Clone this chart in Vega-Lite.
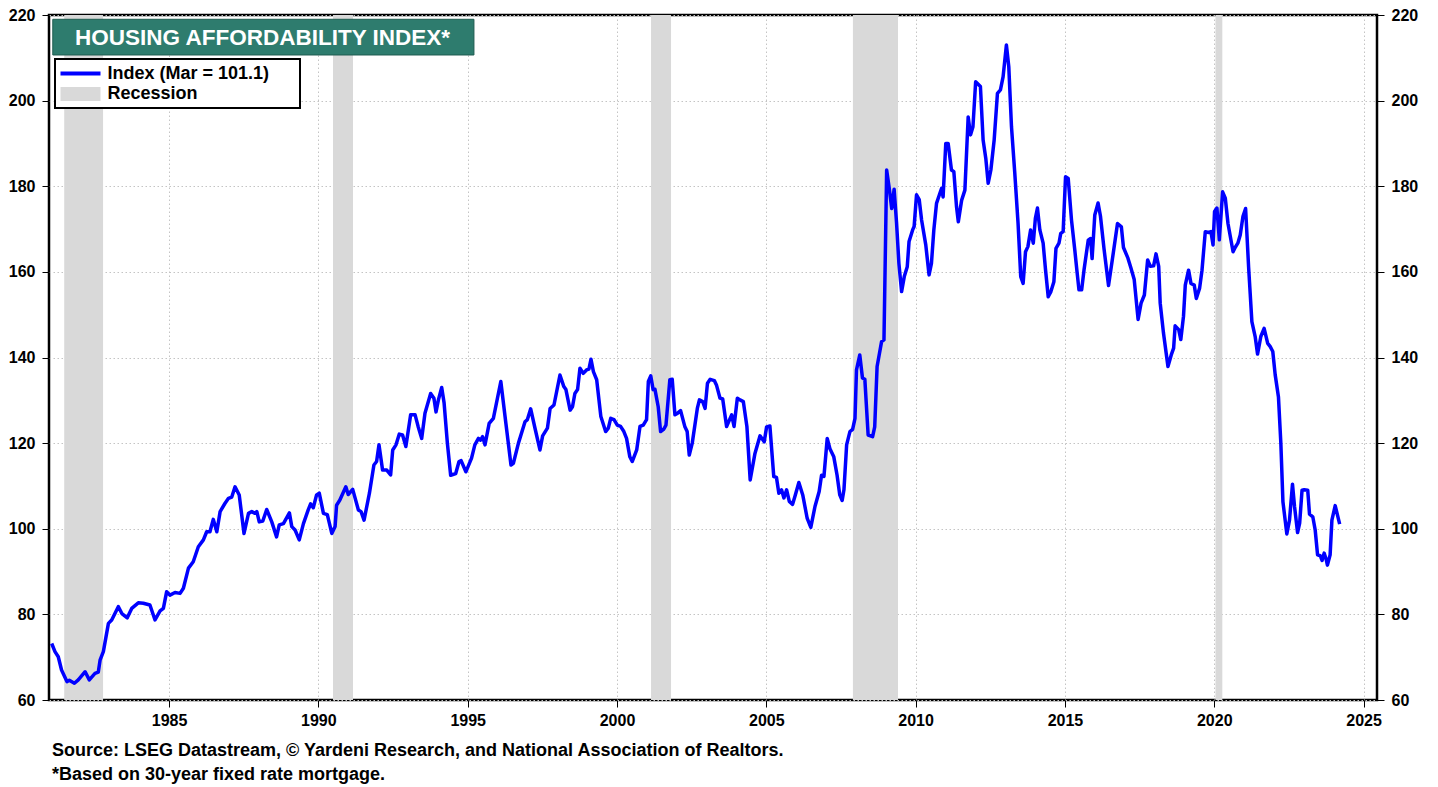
{
  "$schema": "https://vega.github.io/schema/vega-lite/v6.json",
  "width": 1328,
  "height": 685,
  "autosize": {"type": "none"},
  "padding": {"left": 49, "top": 15, "right": 61, "bottom": 87},
  "background": "white",
  "datasets": {
    "index": [
      {"t": 1981.07, "v": 73.2}, {"t": 1981.18, "v": 71.3}, {"t": 1981.29, "v": 70.1}, {"t": 1981.40, "v": 67.0},
      {"t": 1981.58, "v": 64.3}, {"t": 1981.66, "v": 64.6}, {"t": 1981.83, "v": 63.9}, {"t": 1981.96, "v": 64.7},
      {"t": 1982.19, "v": 66.6}, {"t": 1982.33, "v": 64.7}, {"t": 1982.52, "v": 66.2}, {"t": 1982.63, "v": 66.5},
      {"t": 1982.69, "v": 69.3}, {"t": 1982.80, "v": 71.3}, {"t": 1982.97, "v": 77.9}, {"t": 1983.08, "v": 78.7},
      {"t": 1983.30, "v": 81.8}, {"t": 1983.42, "v": 80.2}, {"t": 1983.60, "v": 79.2}, {"t": 1983.75, "v": 81.4},
      {"t": 1983.97, "v": 82.7}, {"t": 1984.14, "v": 82.6}, {"t": 1984.36, "v": 82.2}, {"t": 1984.53, "v": 78.7},
      {"t": 1984.70, "v": 80.8}, {"t": 1984.81, "v": 81.4}, {"t": 1984.92, "v": 85.3}, {"t": 1985.03, "v": 84.5},
      {"t": 1985.20, "v": 85.1}, {"t": 1985.37, "v": 84.9}, {"t": 1985.48, "v": 86.1}, {"t": 1985.65, "v": 90.8},
      {"t": 1985.81, "v": 92.3}, {"t": 1985.98, "v": 95.8}, {"t": 1986.15, "v": 97.4}, {"t": 1986.26, "v": 99.3},
      {"t": 1986.37, "v": 99.3}, {"t": 1986.48, "v": 102.2}, {"t": 1986.60, "v": 99.3}, {"t": 1986.71, "v": 104.0},
      {"t": 1986.87, "v": 105.9}, {"t": 1986.99, "v": 107.1}, {"t": 1987.10, "v": 107.4}, {"t": 1987.21, "v": 109.8},
      {"t": 1987.35, "v": 107.9}, {"t": 1987.51, "v": 98.9}, {"t": 1987.66, "v": 103.6}, {"t": 1987.77, "v": 104.0},
      {"t": 1987.88, "v": 103.6}, {"t": 1987.94, "v": 104.0}, {"t": 1988.02, "v": 101.6}, {"t": 1988.14, "v": 101.8},
      {"t": 1988.27, "v": 104.5}, {"t": 1988.44, "v": 101.6}, {"t": 1988.60, "v": 98.1}, {"t": 1988.69, "v": 100.9},
      {"t": 1988.83, "v": 101.2}, {"t": 1989.03, "v": 103.7}, {"t": 1989.11, "v": 100.5}, {"t": 1989.22, "v": 99.7},
      {"t": 1989.36, "v": 97.4}, {"t": 1989.50, "v": 101.2}, {"t": 1989.66, "v": 104.4}, {"t": 1989.74, "v": 105.8},
      {"t": 1989.83, "v": 104.9}, {"t": 1989.94, "v": 107.9}, {"t": 1990.03, "v": 108.3}, {"t": 1990.17, "v": 103.6},
      {"t": 1990.30, "v": 103.3}, {"t": 1990.45, "v": 98.9}, {"t": 1990.56, "v": 100.5}, {"t": 1990.61, "v": 105.5},
      {"t": 1990.72, "v": 106.7}, {"t": 1990.92, "v": 109.8}, {"t": 1991.00, "v": 108.0}, {"t": 1991.15, "v": 109.2},
      {"t": 1991.34, "v": 104.4}, {"t": 1991.43, "v": 104.0}, {"t": 1991.53, "v": 102.0}, {"t": 1991.71, "v": 108.3},
      {"t": 1991.86, "v": 114.9}, {"t": 1991.95, "v": 115.7}, {"t": 1992.03, "v": 119.6}, {"t": 1992.15, "v": 113.7},
      {"t": 1992.29, "v": 113.7}, {"t": 1992.42, "v": 112.6}, {"t": 1992.49, "v": 118.4}, {"t": 1992.60, "v": 119.6},
      {"t": 1992.71, "v": 122.1}, {"t": 1992.82, "v": 121.9}, {"t": 1992.93, "v": 119.2}, {"t": 1993.09, "v": 126.6},
      {"t": 1993.24, "v": 126.6}, {"t": 1993.34, "v": 123.9}, {"t": 1993.46, "v": 121.1}, {"t": 1993.57, "v": 127.0},
      {"t": 1993.76, "v": 131.6}, {"t": 1993.87, "v": 130.5}, {"t": 1993.94, "v": 127.3}, {"t": 1994.02, "v": 130.1},
      {"t": 1994.13, "v": 133.0}, {"t": 1994.21, "v": 129.4}, {"t": 1994.32, "v": 120.0}, {"t": 1994.43, "v": 112.5},
      {"t": 1994.60, "v": 112.9}, {"t": 1994.71, "v": 115.7}, {"t": 1994.78, "v": 115.9}, {"t": 1994.94, "v": 113.3},
      {"t": 1995.13, "v": 116.5}, {"t": 1995.24, "v": 119.6}, {"t": 1995.36, "v": 121.1}, {"t": 1995.43, "v": 120.7},
      {"t": 1995.50, "v": 121.5}, {"t": 1995.58, "v": 119.6}, {"t": 1995.72, "v": 124.6}, {"t": 1995.86, "v": 125.8},
      {"t": 1996.11, "v": 134.4}, {"t": 1996.28, "v": 124.6}, {"t": 1996.45, "v": 114.9}, {"t": 1996.53, "v": 115.3},
      {"t": 1996.70, "v": 120.0}, {"t": 1996.92, "v": 125.0}, {"t": 1997.00, "v": 125.5}, {"t": 1997.11, "v": 128.0},
      {"t": 1997.26, "v": 123.3}, {"t": 1997.42, "v": 118.4}, {"t": 1997.51, "v": 121.7}, {"t": 1997.67, "v": 123.5},
      {"t": 1997.76, "v": 128.1}, {"t": 1997.89, "v": 128.9}, {"t": 1998.09, "v": 135.9}, {"t": 1998.22, "v": 133.2},
      {"t": 1998.29, "v": 132.5}, {"t": 1998.43, "v": 127.7}, {"t": 1998.51, "v": 128.5}, {"t": 1998.59, "v": 131.6},
      {"t": 1998.68, "v": 132.5}, {"t": 1998.76, "v": 137.5}, {"t": 1998.87, "v": 136.3}, {"t": 1998.98, "v": 137.1},
      {"t": 1999.06, "v": 137.3}, {"t": 1999.13, "v": 139.6}, {"t": 1999.21, "v": 136.7}, {"t": 1999.32, "v": 134.8},
      {"t": 1999.46, "v": 126.2}, {"t": 1999.62, "v": 122.7}, {"t": 1999.71, "v": 123.5}, {"t": 1999.79, "v": 125.8},
      {"t": 1999.90, "v": 125.5}, {"t": 2000.01, "v": 124.2}, {"t": 2000.12, "v": 123.9}, {"t": 2000.23, "v": 122.7},
      {"t": 2000.32, "v": 121.1}, {"t": 2000.43, "v": 116.8}, {"t": 2000.51, "v": 115.7}, {"t": 2000.66, "v": 118.4},
      {"t": 2000.77, "v": 123.9}, {"t": 2000.88, "v": 124.2}, {"t": 2000.99, "v": 125.5}, {"t": 2001.05, "v": 134.4},
      {"t": 2001.13, "v": 135.7}, {"t": 2001.21, "v": 132.5}, {"t": 2001.27, "v": 132.6}, {"t": 2001.38, "v": 128.5},
      {"t": 2001.46, "v": 122.7}, {"t": 2001.57, "v": 123.3}, {"t": 2001.64, "v": 124.2}, {"t": 2001.77, "v": 134.8},
      {"t": 2001.85, "v": 134.9}, {"t": 2001.94, "v": 126.6}, {"t": 2002.03, "v": 127.0}, {"t": 2002.13, "v": 127.6},
      {"t": 2002.27, "v": 123.9}, {"t": 2002.35, "v": 122.7}, {"t": 2002.42, "v": 117.2}, {"t": 2002.52, "v": 120.0},
      {"t": 2002.69, "v": 128.1}, {"t": 2002.76, "v": 130.1}, {"t": 2002.87, "v": 129.7}, {"t": 2002.95, "v": 128.1},
      {"t": 2003.03, "v": 134.0}, {"t": 2003.12, "v": 134.9}, {"t": 2003.26, "v": 134.6}, {"t": 2003.33, "v": 133.6},
      {"t": 2003.45, "v": 130.5}, {"t": 2003.54, "v": 130.3}, {"t": 2003.67, "v": 123.9}, {"t": 2003.84, "v": 126.6},
      {"t": 2003.92, "v": 123.9}, {"t": 2004.03, "v": 130.5}, {"t": 2004.12, "v": 130.1}, {"t": 2004.23, "v": 129.7},
      {"t": 2004.35, "v": 123.9}, {"t": 2004.46, "v": 111.4}, {"t": 2004.62, "v": 117.6}, {"t": 2004.79, "v": 121.7},
      {"t": 2004.93, "v": 120.3}, {"t": 2005.01, "v": 123.8}, {"t": 2005.12, "v": 124.0}, {"t": 2005.25, "v": 112.2},
      {"t": 2005.34, "v": 112.0}, {"t": 2005.42, "v": 108.3}, {"t": 2005.51, "v": 109.1}, {"t": 2005.59, "v": 107.2},
      {"t": 2005.68, "v": 109.1}, {"t": 2005.77, "v": 106.4}, {"t": 2005.88, "v": 105.7}, {"t": 2005.96, "v": 107.6},
      {"t": 2006.09, "v": 110.8}, {"t": 2006.22, "v": 107.9}, {"t": 2006.37, "v": 102.4}, {"t": 2006.49, "v": 100.3},
      {"t": 2006.63, "v": 105.2}, {"t": 2006.77, "v": 108.7}, {"t": 2006.85, "v": 112.5}, {"t": 2006.93, "v": 112.2},
      {"t": 2007.04, "v": 121.1}, {"t": 2007.13, "v": 118.7}, {"t": 2007.26, "v": 116.8}, {"t": 2007.37, "v": 112.5},
      {"t": 2007.46, "v": 107.9}, {"t": 2007.54, "v": 106.6}, {"t": 2007.60, "v": 109.1}, {"t": 2007.69, "v": 119.6},
      {"t": 2007.80, "v": 122.7}, {"t": 2007.89, "v": 123.2}, {"t": 2007.97, "v": 125.8}, {"t": 2008.02, "v": 137.1},
      {"t": 2008.13, "v": 140.6}, {"t": 2008.22, "v": 135.2}, {"t": 2008.30, "v": 134.9}, {"t": 2008.41, "v": 121.9},
      {"t": 2008.56, "v": 121.5}, {"t": 2008.63, "v": 123.8}, {"t": 2008.71, "v": 137.9}, {"t": 2008.86, "v": 143.7},
      {"t": 2008.94, "v": 144.1}, {"t": 2009.03, "v": 183.8}, {"t": 2009.11, "v": 179.9}, {"t": 2009.20, "v": 174.8},
      {"t": 2009.28, "v": 179.3}, {"t": 2009.36, "v": 171.6}, {"t": 2009.44, "v": 162.0}, {"t": 2009.53, "v": 155.4},
      {"t": 2009.62, "v": 158.9}, {"t": 2009.72, "v": 161.2}, {"t": 2009.78, "v": 167.1}, {"t": 2009.90, "v": 169.8},
      {"t": 2009.95, "v": 170.6}, {"t": 2010.03, "v": 178.0}, {"t": 2010.12, "v": 176.9}, {"t": 2010.20, "v": 172.1},
      {"t": 2010.34, "v": 166.3}, {"t": 2010.45, "v": 159.3}, {"t": 2010.53, "v": 162.0}, {"t": 2010.61, "v": 169.8},
      {"t": 2010.70, "v": 176.0}, {"t": 2010.81, "v": 178.3}, {"t": 2010.87, "v": 179.5}, {"t": 2010.92, "v": 177.5},
      {"t": 2011.01, "v": 190.0}, {"t": 2011.09, "v": 190.0}, {"t": 2011.20, "v": 183.8}, {"t": 2011.28, "v": 183.4},
      {"t": 2011.37, "v": 175.2}, {"t": 2011.43, "v": 171.7}, {"t": 2011.54, "v": 176.7}, {"t": 2011.65, "v": 179.1},
      {"t": 2011.76, "v": 196.2}, {"t": 2011.84, "v": 192.0}, {"t": 2011.92, "v": 193.9}, {"t": 2012.01, "v": 204.4},
      {"t": 2012.17, "v": 203.3}, {"t": 2012.26, "v": 190.8}, {"t": 2012.35, "v": 186.5}, {"t": 2012.43, "v": 180.7},
      {"t": 2012.52, "v": 183.8}, {"t": 2012.63, "v": 190.8}, {"t": 2012.74, "v": 201.7}, {"t": 2012.84, "v": 202.5},
      {"t": 2012.93, "v": 205.6}, {"t": 2013.04, "v": 213.0}, {"t": 2013.12, "v": 207.9}, {"t": 2013.21, "v": 193.9},
      {"t": 2013.32, "v": 183.1}, {"t": 2013.43, "v": 171.4}, {"t": 2013.52, "v": 158.9}, {"t": 2013.60, "v": 157.3},
      {"t": 2013.68, "v": 164.7}, {"t": 2013.76, "v": 165.9}, {"t": 2013.85, "v": 169.8}, {"t": 2013.94, "v": 166.7},
      {"t": 2014.01, "v": 172.5}, {"t": 2014.08, "v": 174.9}, {"t": 2014.16, "v": 169.8}, {"t": 2014.27, "v": 166.7},
      {"t": 2014.35, "v": 160.5}, {"t": 2014.44, "v": 154.2}, {"t": 2014.53, "v": 155.4}, {"t": 2014.63, "v": 157.7},
      {"t": 2014.70, "v": 165.5}, {"t": 2014.80, "v": 166.7}, {"t": 2014.86, "v": 169.0}, {"t": 2014.94, "v": 169.4},
      {"t": 2015.02, "v": 182.2}, {"t": 2015.11, "v": 181.8}, {"t": 2015.22, "v": 172.1}, {"t": 2015.33, "v": 165.1},
      {"t": 2015.41, "v": 159.7}, {"t": 2015.47, "v": 155.8}, {"t": 2015.56, "v": 155.8}, {"t": 2015.64, "v": 160.5},
      {"t": 2015.78, "v": 167.4}, {"t": 2015.86, "v": 167.8}, {"t": 2015.91, "v": 163.1}, {"t": 2016.00, "v": 173.3},
      {"t": 2016.11, "v": 176.1}, {"t": 2016.19, "v": 173.0}, {"t": 2016.31, "v": 165.3}, {"t": 2016.46, "v": 156.8},
      {"t": 2016.59, "v": 163.0}, {"t": 2016.76, "v": 171.3}, {"t": 2016.89, "v": 170.5}, {"t": 2016.96, "v": 165.7},
      {"t": 2017.11, "v": 163.2}, {"t": 2017.21, "v": 160.9}, {"t": 2017.32, "v": 158.2}, {"t": 2017.45, "v": 148.9},
      {"t": 2017.55, "v": 152.7}, {"t": 2017.66, "v": 154.6}, {"t": 2017.77, "v": 162.8}, {"t": 2017.86, "v": 161.3},
      {"t": 2017.97, "v": 161.4}, {"t": 2018.05, "v": 164.2}, {"t": 2018.14, "v": 161.3}, {"t": 2018.19, "v": 152.7},
      {"t": 2018.30, "v": 145.7}, {"t": 2018.45, "v": 137.9}, {"t": 2018.56, "v": 140.6}, {"t": 2018.64, "v": 142.2},
      {"t": 2018.69, "v": 147.4}, {"t": 2018.81, "v": 146.5}, {"t": 2018.88, "v": 144.2}, {"t": 2018.97, "v": 149.6},
      {"t": 2019.03, "v": 156.9}, {"t": 2019.14, "v": 160.4}, {"t": 2019.22, "v": 157.3}, {"t": 2019.33, "v": 156.9},
      {"t": 2019.40, "v": 153.8}, {"t": 2019.51, "v": 156.2}, {"t": 2019.59, "v": 160.4}, {"t": 2019.70, "v": 169.4},
      {"t": 2019.81, "v": 169.2}, {"t": 2019.89, "v": 169.4}, {"t": 2019.96, "v": 166.3}, {"t": 2020.01, "v": 174.1},
      {"t": 2020.09, "v": 174.9}, {"t": 2020.17, "v": 167.5}, {"t": 2020.28, "v": 178.7}, {"t": 2020.37, "v": 177.2},
      {"t": 2020.46, "v": 171.3}, {"t": 2020.63, "v": 164.7}, {"t": 2020.70, "v": 165.7}, {"t": 2020.79, "v": 166.7},
      {"t": 2020.87, "v": 168.6}, {"t": 2020.96, "v": 172.9}, {"t": 2021.05, "v": 174.8}, {"t": 2021.15, "v": 161.2},
      {"t": 2021.26, "v": 148.4}, {"t": 2021.37, "v": 144.9}, {"t": 2021.45, "v": 140.8}, {"t": 2021.56, "v": 144.9},
      {"t": 2021.67, "v": 146.8}, {"t": 2021.79, "v": 143.3}, {"t": 2021.87, "v": 142.6}, {"t": 2021.96, "v": 141.4},
      {"t": 2022.04, "v": 136.0}, {"t": 2022.15, "v": 130.8}, {"t": 2022.23, "v": 120.0}, {"t": 2022.30, "v": 106.3},
      {"t": 2022.43, "v": 98.8}, {"t": 2022.52, "v": 102.0}, {"t": 2022.62, "v": 110.4}, {"t": 2022.69, "v": 105.1},
      {"t": 2022.79, "v": 99.1}, {"t": 2022.86, "v": 101.3}, {"t": 2022.94, "v": 109.0}, {"t": 2023.01, "v": 109.1},
      {"t": 2023.13, "v": 109.0}, {"t": 2023.19, "v": 103.4}, {"t": 2023.30, "v": 102.8}, {"t": 2023.38, "v": 99.7},
      {"t": 2023.46, "v": 93.9}, {"t": 2023.55, "v": 93.7}, {"t": 2023.61, "v": 92.6}, {"t": 2023.68, "v": 94.3},
      {"t": 2023.75, "v": 92.8}, {"t": 2023.79, "v": 91.5}, {"t": 2023.88, "v": 93.9}, {"t": 2023.94, "v": 102.0},
      {"t": 2024.05, "v": 105.4}, {"t": 2024.20, "v": 101.1}
    ],
    "recessions": [
      {"start": 1981.49, "end": 1982.79, "type": "Recession"},
      {"start": 1990.49, "end": 1991.16, "type": "Recession"},
      {"start": 2001.14, "end": 2001.81, "type": "Recession"},
      {"start": 2007.90, "end": 2009.41, "type": "Recession"},
      {"start": 2020.04, "end": 2020.27, "type": "Recession"}
    ],
    "heading": [
      {"label": "HOUSING AFFORDABILITY INDEX*"}
    ]
  },
  "title": {
    "text": [
      "Source: LSEG Datastream, © Yardeni Research, and National Association of Realtors.",
      "*Based on 30-year fixed rate mortgage."
    ],
    "orient": "bottom",
    "anchor": "start",
    "frame": "group",
    "font": "Liberation Sans",
    "fontSize": 18,
    "fontWeight": "bold",
    "color": "#000000",
    "lineHeight": 24,
    "offset": 14,
    "dx": 3
  },
  "config": {
    "font": "Liberation Sans",
    "view": {"stroke": "#000000", "strokeWidth": 2.5},
    "legend": {"strokeWidth": 2},
    "axis": {
      "domain": false,
      "labelFont": "Liberation Sans",
      "labelFontSize": 16,
      "labelFontWeight": "bold",
      "labelColor": "#000000",
      "tickColor": "#000000",
      "tickWidth": 1,
      "tickSize": 7,
      "gridColor": "#c4c4c4",
      "gridDash": [1.5, 2.5],
      "gridWidth": 1,
      "labelFlush": false,
      "labelOverlap": false,
      "title": null
    }
  },
  "layer": [
    {
      "data": {"name": "recessions"},
      "mark": {"type": "rect", "opacity": 1},
      "encoding": {
        "x": {"field": "start", "type": "quantitative"},
        "x2": {"field": "end"},
        "color": {
          "field": "type",
          "type": "nominal",
          "scale": {"domain": ["Index (Mar = 101.1)", "Recession"], "range": ["#0000ff", "#d9d9d9"]},
          "legend": {
            "title": null,
            "orient": "none",
            "legendX": 6,
            "legendY": 44,
            "fillColor": "#ffffff",
            "strokeColor": "#000000",
            "padding": 4.5,
            "rowPadding": 1.5,
            "labelFont": "Liberation Sans",
            "labelFontSize": 18,
            "labelFontWeight": "bold",
            "labelColor": "#000000",
            "labelLimit": 400,
            "labelOffset": 28,
            "symbolSize": 400,
            "symbolStrokeWidth": 0,
            "symbolType": {"expr": "datum.value === 'Recession' ? 'M-0.9,-0.7H3.1V0.7H-0.9Z' : 'M-0.9,-0.2H3.1V0.2H-0.9Z'"},
            "labelExpr": "datum.label + '\u2800\u2800'"
          }
        }
      }
    },
    {
      "data": {"name": "index"},
      "mark": {"type": "line", "color": "#0000ff", "strokeWidth": 3.5, "strokeJoin": "round"},
      "encoding": {
        "x": {
          "field": "t",
          "type": "quantitative",
          "scale": {"domain": [1980.98, 2025.45], "nice": false, "zero": false},
          "axis": {"values": [1985, 1990, 1995, 2000, 2005, 2010, 2015, 2020, 2025], "format": "d", "grid": true, "labelPadding": 5, "orient": "bottom"}
        },
        "y": {
          "field": "v",
          "type": "quantitative",
          "scale": {"domain": [60, 220], "nice": false, "zero": false},
          "axis": {"values": [60, 80, 100, 120, 140, 160, 180, 200, 220], "orient": "left", "grid": true, "labelPadding": 7}
        }
      }
    },
    {
      "data": {"name": "index"},
      "mark": {"type": "line", "strokeOpacity": 0},
      "encoding": {
        "x": {"field": "t", "type": "quantitative"},
        "y": {
          "field": "v",
          "type": "quantitative",
          "axis": {"values": [60, 80, 100, 120, 140, 160, 180, 200, 220], "orient": "right", "grid": false, "labelPadding": 7}
        }
      }
    },
    {
      "data": {"name": "heading"},
      "mark": {"type": "rect", "fill": "#2e7c6e", "stroke": "#1f5c50", "strokeWidth": 1},
      "encoding": {
        "x": {"datum": 1981.107, "type": "quantitative"},
        "x2": {"datum": 1995.21},
        "y": {"datum": 219.0, "type": "quantitative", "axis": null},
        "y2": {"datum": 210.66}
      }
    },
    {
      "data": {"name": "heading"},
      "mark": {"type": "text", "color": "#ffffff", "font": "Liberation Sans", "fontSize": 22.5, "fontWeight": "bold", "align": "center", "baseline": "middle"},
      "encoding": {
        "x": {"datum": 1988.13, "type": "quantitative"},
        "y": {"datum": 214.74, "type": "quantitative", "axis": null},
        "text": {"field": "label"}
      }
    }
  ],
  "resolve": {"axis": {"y": "independent"}}
}
